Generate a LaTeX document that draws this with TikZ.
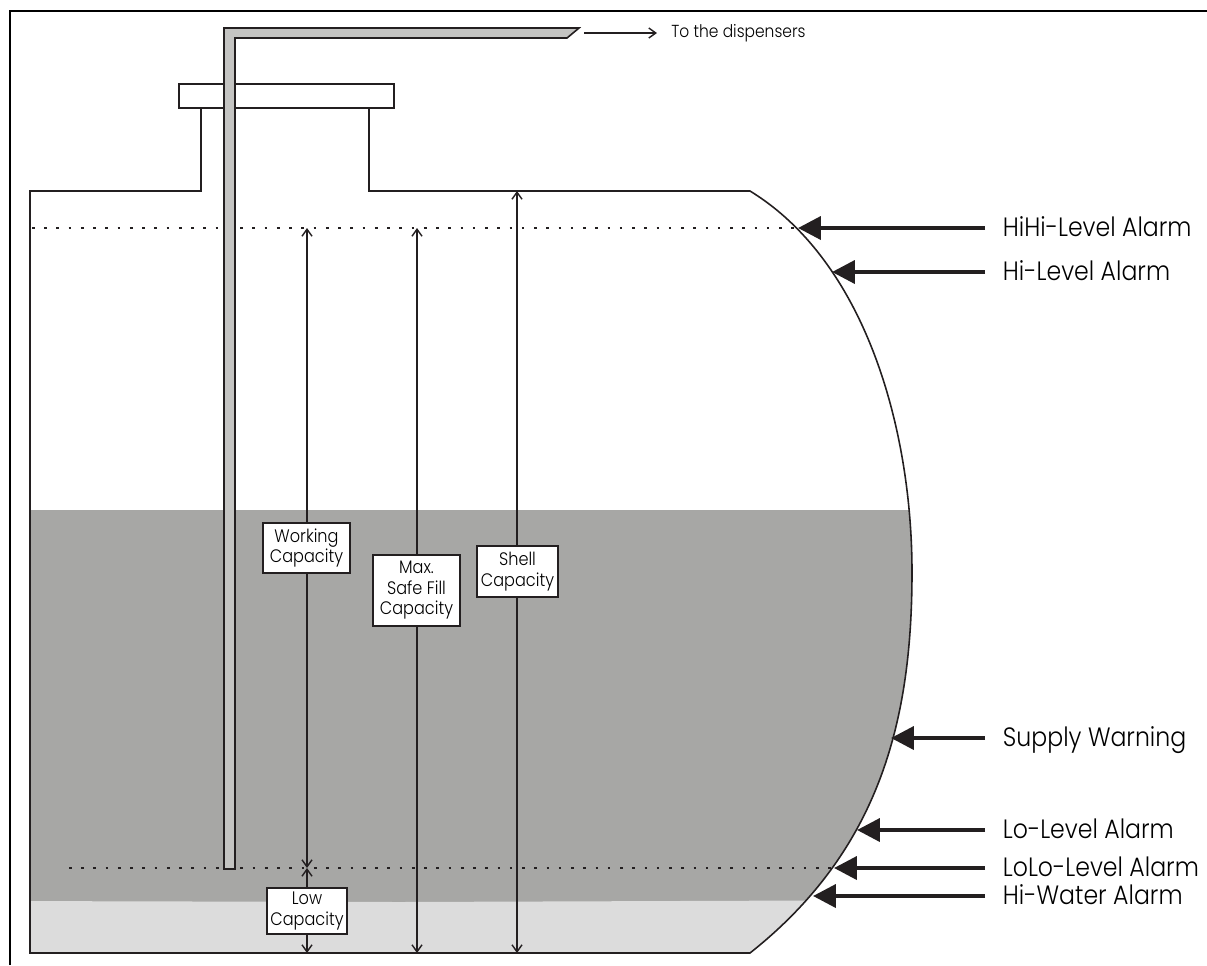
\documentclass[tikz,border=0pt]{standalone}
\usepackage{fontspec}
\setmainfont{Poppins}[UprightFont=* Light, FakeStretch=0.89]
\usetikzlibrary{arrows.meta}
\definecolor{fueldark}{HTML}{A7A7A5}
\definecolor{waterlight}{HTML}{DCDCDC}
\definecolor{pipegray}{HTML}{C4C4C2}
\definecolor{inkline}{HTML}{231F20}
\newcommand\tankpath{(30,191) -- (201,191) -- (201,108) -- (369,108) -- (369,191) -- (750,191)
  .. controls (866,262) and (912,430) .. (912,572)
  .. controls (912,720) and (880,850) .. (750,953) -- (30,953) -- cycle}

\begin{document}
\begin{tikzpicture}[x=0.02cm, y=-0.02cm, line join=miter,
    capbox/.style={draw=inkline, fill=white, line width=0.8pt, inner sep=0pt, align=center, font=\fontsize{10.3}{11.7}\selectfont},
    alarm/.style={anchor=west, inner ysep=0pt, inner xsep=10pt, text height=10.6pt, text depth=0.8pt, font=\fontsize{15.1}{17}\selectfont},
    alarmarrow/.style={-{Triangle[length=13pt, width=13pt]}, line width=2.3pt, draw=inkline},
    dim/.style={{Straight Barb[length=4pt, width=5.7pt]}-{Straight Barb[length=4pt, width=5.7pt]}, draw=inkline, line width=0.8pt},
    levelline/.style={draw=inkline, line width=1.5pt, dash pattern=on 1.5pt off 5.47pt}]
\useasboundingbox (0,0) rectangle (1207,965);

    %Outer frame
    \draw [line width=1.13pt] (10,965) -- (10,11) -- (1207,11);

    %Product in the tank
    \begin{scope}
        \clip \tankpath;
        \fill [fueldark] (0,510) rectangle (950,903);
        \fill [waterlight] (0,901) -- (400,902) -- (950,900) -- (950,960) -- (0,960) -- cycle;
    \end{scope}

    \draw [inkline, line width=0.9pt] \tankpath;
    \draw [inkline, line width=0.9pt] (179,84) rectangle (394,108);

    %Level lines
    \coordinate (hhl) at (32,228);
    \coordinate (hhr) at (800,228);
    \coordinate (lll) at (69,868);
    \coordinate (llr) at (834,868);
    \draw [levelline] (hhl) -- (hhr);
    \draw [levelline] (lll) -- (llr);

    %Suction pipe
    \draw [inkline, fill=pipegray, line width=0.9pt] (224,869) -- (224,28) -- (579,28) -- (567,38) -- (235,38) -- (235,869) -- cycle;

    %Capacity marks
    \coordinate (wt) at (307,228);
    \coordinate (wb) at (307,868);
    \coordinate (ft) at (417,228);
    \coordinate (fb) at (417,953);
    \coordinate (st) at (517,191);
    \coordinate (sb) at (517,953);
    \coordinate (lt) at (307,868);
    \coordinate (lb) at (307,953);
    \draw [dim] (wt) -- (wb);
    \draw [dim] (ft) -- (fb);
    \draw [dim] (st) -- (sb);
    \draw [dim] (lt) -- (lb);

    \node at (306.5,548) [capbox, minimum width=1.74cm, minimum height=1cm] (working) {Working\\Capacity};
    \node at (416.5,590.5) [capbox, minimum width=1.74cm, minimum height=1.42cm] (maxfill) {Max.\\Safe Fill\\Capacity};
    \node at (517.5,571.5) [capbox, minimum width=1.62cm, minimum height=1.02cm] (shell) {Shell\\Capacity};
    \node at (307,911) [capbox, minimum width=1.6cm, minimum height=0.92cm] (low) {Low\\Capacity};

    %Dispensers
    \coordinate (pipeend) at (584,33);
    \node at (671,33) [anchor=west, inner sep=0pt, font=\fontsize{9.9}{11}\selectfont] (disp) {To the dispensers};
    \coordinate (dispend) at (657,33);
    \draw [-{Straight Barb[length=4pt, width=5.7pt]}, draw=inkline, line width=0.8pt] (pipeend) -- (dispend);

    %Alarms
    \node at (985,228) [alarm] (hihi) {HiHi-Level Alarm};
    \node at (985,272) [alarm] (hi) {Hi-Level Alarm};
    \node at (985,738) [alarm] (supply) {Supply Warning};
    \node at (985,830) [alarm] (lo) {Lo-Level Alarm};
    \node at (985,868) [alarm] (lolo) {LoLo-Level Alarm};
    \node at (985,896) [alarm] (water) {Hi-Water Alarm};

    \coordinate (hihitip) at (798,228);
    \coordinate (hitip) at (832,272);
    \coordinate (supplytip) at (891,738);
    \coordinate (lotip) at (857,830);
    \coordinate (lolotip) at (834,868);
    \coordinate (watertip) at (813,896);

    \draw [alarmarrow] (hihi.west) -- (hihitip);
    \draw [alarmarrow] (hi.west) -- (hitip);
    \draw [alarmarrow] (supply.west) -- (supplytip);
    \draw [alarmarrow] (lo.west) -- (lotip);
    \draw [alarmarrow] (lolo.west) -- (lolotip);
    \draw [alarmarrow] (water.west) -- (watertip);
\end{tikzpicture}
\end{document}
